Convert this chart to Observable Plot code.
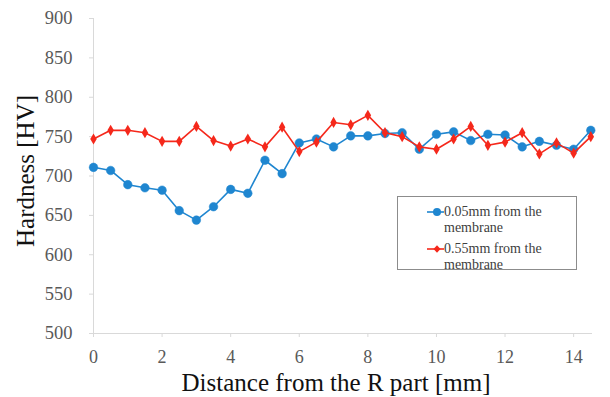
<!DOCTYPE html>
<html>
<head>
<meta charset="utf-8">
<script src="https://cdn.jsdelivr.net/npm/d3@7"></script>
<script src="https://cdn.jsdelivr.net/npm/@observablehq/plot@0.6"></script>
<style>
  html, body { margin: 0; padding: 0; background: #fff; }
  #wrap { position: relative; width: 610px; height: 397px; font-family: "Liberation Serif", serif; }
  #legend { position: absolute; left: 397px; top: 196px; width: 180px; height: 74px; border: 1px solid #8c8c8c; background: #fff; box-sizing: border-box; }
  .item { position: absolute; left: 46px; font-family: "Liberation Serif", serif; font-size: 14px; line-height: 16px; color: #404040; white-space: nowrap; }
  .item svg { position: absolute; left: -17px; top: 1px; }
</style>
</head>
<body>
<div id="wrap"></div>
<script>
const distances = [0, 0.5, 1, 1.5, 2, 2.5, 3, 3.5, 4, 4.5, 5, 5.5, 6, 6.5, 7, 7.5, 8, 8.5, 9, 9.5, 10, 10.5, 11, 11.5, 12, 12.5, 13, 13.5, 14, 14.5];
const hardness005 = [711, 707, 689, 685, 682, 656, 644, 661, 683, 678, 720, 703, 742, 747, 737, 751, 751, 754, 755, 734, 753, 756, 745, 753, 752, 737, 744, 739, 734, 758];
const hardness055 = [747, 758, 758, 755, 744, 744, 763, 745, 738, 747, 737, 762, 731, 743, 768, 765, 777, 755, 750, 737, 734, 747, 763, 739, 743, 755, 728, 742, 729, 750];
const seriesNames = ["0.05mm from the membrane", "0.55mm from the membrane"];
const yTicks = [500, 550, 600, 650, 700, 750, 800, 850, 900];
const xTicks = [0, 2, 4, 6, 8, 10, 12, 14];
const xTitle = "Distance from the R part [mm]";
const yTitle = "Hardness [HV]";

const blue = "#1f86d0";
const red = "#f5281b";
const serif = "'Liberation Serif', serif";

const blueData = distances.map((d, i) => ({x: d, y: hardness005[i]}));
const redData = distances.map((d, i) => ({x: d, y: hardness055[i]}));

const chart = Plot.plot({
  width: 610,
  height: 397,
  marginLeft: 93,
  marginRight: 18,
  marginTop: 18,
  marginBottom: 64,
  style: {background: "#fff", fontFamily: serif},
  x: {domain: [0, 14.55]},
  y: {domain: [500, 900]},
  marks: [
    Plot.ruleX([0], {stroke: "#d9d9d9"}),
    Plot.ruleY([500], {stroke: "#d9d9d9"}),
    Plot.axisY({ticks: yTicks, tickSize: 4, tickPadding: 17, stroke: "#d9d9d9", fill: "#595959", fontSize: 18.5, fontFamily: serif, label: null}),
    Plot.axisX({ticks: xTicks, tickSize: 4, tickPadding: 13, stroke: "#d9d9d9", fill: "#595959", fontSize: 18, fontFamily: serif, label: null}),
    Plot.text([yTitle], {frameAnchor: "left", dx: -68, dy: -5, rotate: -90, fontSize: 25, fontFamily: serif, fill: "#111", textAnchor: "middle", lineAnchor: "middle"}),
    Plot.text([xTitle], {frameAnchor: "bottom", dx: -7, dy: 49, fontSize: 25, fontFamily: serif, fill: "#111", textAnchor: "middle", lineAnchor: "middle"}),
    Plot.line(blueData, {x: "x", y: "y", stroke: blue, strokeWidth: 1.6}),
    Plot.dot(blueData, {x: "x", y: "y", r: 4.3, fill: blue, stroke: blue, strokeWidth: 0.5}),
    Plot.line(redData, {x: "x", y: "y", stroke: red, strokeWidth: 1.6}),
    Plot.dot(redData, {x: "x", y: "y", r: 3.4, symbol: "diamond", fill: red})
  ]
});
const wrap = document.getElementById("wrap");
wrap.appendChild(chart);

const legend = document.createElement("div");
legend.id = "legend";
const items = [
  {name: seriesNames[0], color: blue, shape: "circle"},
  {name: seriesNames[1], color: red, shape: "diamond"}
];
items.forEach((it, i) => {
  const d = document.createElement("div");
  d.className = "item";
  d.style.top = (7 + i * 37) + "px";
  const [a, b] = it.name.split(" the ");
  const marker = it.shape === "circle"
    ? `<circle cx="10" cy="7" r="4" fill="${it.color}"/>`
    : `<path d="M10 3.2 L13.5 7 L10 10.8 L6.5 7 Z" fill="${it.color}"/>`;
  d.innerHTML = `<svg width="17" height="14"><line x1="0" y1="7" x2="17" y2="7" stroke="${it.color}" stroke-width="1.6"/>${marker}</svg><span>${a} the<br>${b}</span>`;
  legend.appendChild(d);
});
wrap.appendChild(legend);
</script>
</body>
</html>
